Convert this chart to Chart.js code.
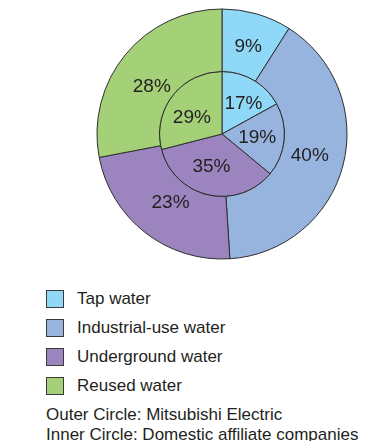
<!DOCTYPE html>
<html>
<head>
<meta charset="utf-8">
<script src="https://cdn.jsdelivr.net/npm/chart.js@4/dist/chart.umd.min.js"></script>
<style>
  html, body { margin: 0; padding: 0; background: #fff; }
  body { width: 370px; height: 441px; position: relative; overflow: hidden;
         font-family: "Liberation Sans", Arial, sans-serif; color: #231f20; }
  #wrap { position: absolute; left: 94px; top: 6px; width: 256px; height: 256px; }
  #legend { position: absolute; left: 46px; top: 284px; }
  .row { display: flex; align-items: center; height: 29px; font-size: 17px; }
  .box { width: 16px; height: 16px; border: 1px solid #3a3a3a; margin-right: 13px; }
  #note { position: absolute; left: 46px; top: 405px; font-size: 17px; line-height: 20px; }
</style>
</head>
<body>
<div id="wrap"><canvas id="waterChart"></canvas></div>
<div id="legend"></div>
<div id="note"></div>

<script>
// water sources, clockwise from 12 o'clock
const categories = ['Tap water', 'Industrial-use water', 'Underground water', 'Reused water'];
const outerValues = [9, 40, 23, 28];   // Mitsubishi Electric
const innerValues = [17, 19, 35, 29];  // Domestic affiliate companies
const noteLines = ['Outer Circle: Mitsubishi Electric', 'Inner Circle: Domestic affiliate companies'];

const colors = ['#8fd8f7', '#96b4de', '#9c85bf', '#a4d077'];
const lineColor = '#2e2e2e';

// small hand tweaks so the % labels sit where the original put them
const labelShift = [
  [[0, 3], [-3, -2], [6, -5], [2, 13]],
  [[4, -1], [1, 1], [-3, -1], [-3, 5]]
];

// legend + footnote
const legend = document.getElementById('legend');
categories.forEach((name, i) => {
  const row = document.createElement('div');
  row.className = 'row';
  row.innerHTML = '<span class="box" style="background:' + colors[i] + '"></span><span>' + name + '</span>';
  legend.appendChild(row);
});
document.getElementById('note').innerHTML = noteLines.join('<br>');

// percent labels drawn on each slice
const sliceLabels = {
  id: 'sliceLabels',
  afterDatasetsDraw(chart) {
    const ctx = chart.ctx;
    ctx.save();
    ctx.font = '19px "Liberation Sans", Arial, sans-serif';
    ctx.fillStyle = '#231f20';
    ctx.textAlign = 'center';
    ctx.textBaseline = 'middle';
    chart.data.datasets.forEach((ds, di) => {
      const meta = chart.getDatasetMeta(di);
      meta.data.forEach((arc, i) => {
        const p = arc.getProps(['x', 'y', 'startAngle', 'endAngle', 'innerRadius', 'outerRadius'], true);
        const mid = (p.startAngle + p.endAngle) / 2;
        const r = di === 0 ? (p.innerRadius + p.outerRadius) / 2 : p.outerRadius * 0.55;
        const s = labelShift[di][i];
        ctx.fillText(ds.data[i] + '%', p.x + Math.cos(mid) * r + s[0], p.y + Math.sin(mid) * r + s[1]);
      });
    });
    ctx.restore();
  }
};

new Chart(document.getElementById('waterChart').getContext('2d'), {
  type: 'doughnut',
  data: {
    labels: categories,
    datasets: [
      {
        label: 'Mitsubishi Electric',
        data: outerValues,
        backgroundColor: colors,
        borderColor: lineColor,
        borderWidth: 1
      },
      {
        label: 'Domestic affiliate companies',
        data: innerValues,
        backgroundColor: colors,
        borderColor: lineColor,
        borderWidth: 1
      }
    ]
  },
  options: {
    responsive: true,
    maintainAspectRatio: false,
    animation: false,
    cutout: 0,
    radius: 125,
    layout: { padding: 0 },
    plugins: {
      legend: { display: false },
      tooltip: { enabled: false }
    }
  },
  plugins: [sliceLabels]
});
</script>
</body>
</html>
